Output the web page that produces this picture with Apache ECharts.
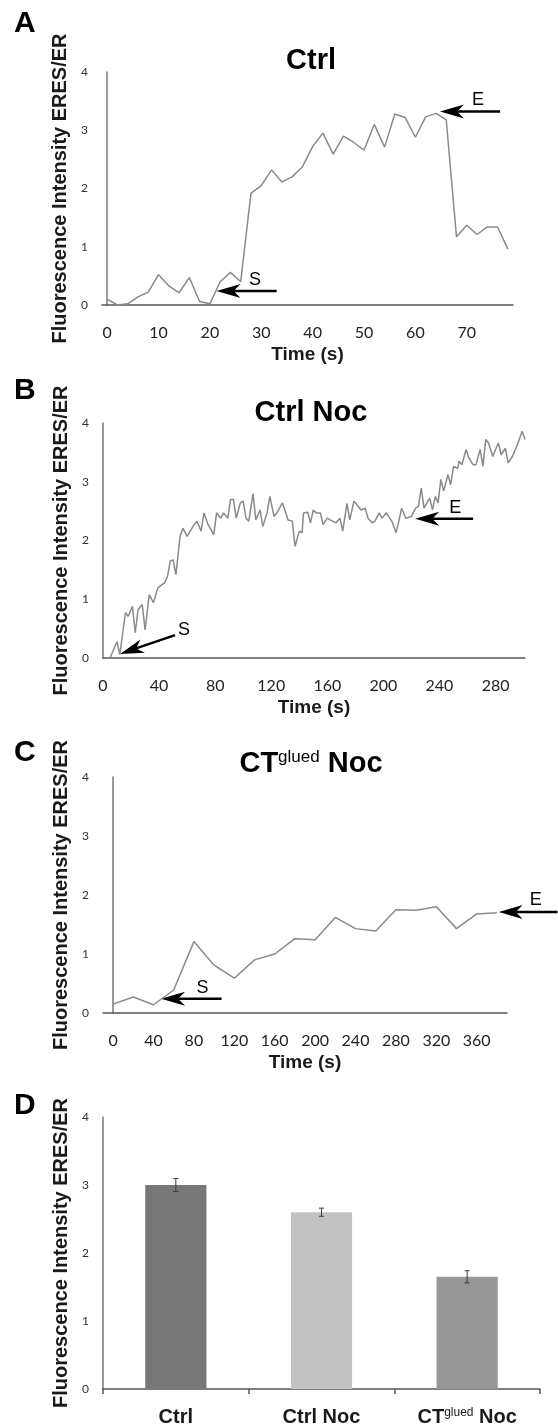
<!DOCTYPE html>
<html>
<head>
<meta charset="utf-8">
<title>ERES/ER fluorescence</title>
<script src="https://cdn.jsdelivr.net/npm/echarts@6/dist/echarts.min.js"></script>
<style>
html, body { margin: 0; padding: 0; background: #fff; }
#main { width: 558px; height: 1426px; }
</style>
</head>
<body>
<div id="main"></div>
<script>
// panel A - Ctrl (s, ratio)
var aTime = [0,2,4,6,8,10,12,14,16,18,20,22,24,26,28,30,32,34,36,38,40,42,44,46,48,50,52,54,56,58,60,62,64,66,68,70,72,74,76,78];
var aValue = [0.10,0.00,0.02,0.14,0.22,0.52,0.33,0.21,0.47,0.06,0.02,0.40,0.56,0.40,1.92,2.05,2.32,2.11,2.20,2.37,2.72,2.95,2.59,2.90,2.79,2.66,3.10,2.71,3.28,3.22,2.88,3.23,3.29,3.18,1.17,1.37,1.21,1.34,1.34,0.96];
var aTicks = [0,10,20,30,40,50,60,70];
// label, tailX, tailY, tipX, tipY, textX, textY
var aArrows = [['S',33,0.24,21.3,0.24,28.8,0.43],['E',76.5,3.32,64.8,3.32,72.2,3.52]];

// panel B - Ctrl Noc
var bTime = [5,10,12,16,18,21,23,25,28,30,33,36,39,42,44,46,48,50,52,55,57,60,65,67,70,72,75,79,81,84,86,89,91,93,95,98,100,102,104,107,109,112,114,117,119,122,124,128,132,135,137,140,142,143,146,148,150,152,155,157,160,162,166,169,171,174,176,179,182,184,187,189,192,194,197,199,202,206,209,211,213,216,220,223,225,227,229,231,233,235,237,239,241,243,246,248,250,253,254,256,259,261,264,266,269,271,273,275,278,280,282,284,287,289,292,296,299,301];
var bValue = [0,0.28,0.06,0.77,0.71,0.88,0.43,0.82,0.91,0.48,1.08,0.94,1.19,1.25,1.28,1.39,1.65,1.67,1.42,2.07,2.21,2.07,2.27,2.33,2.16,2.47,2.27,2.10,2.47,2.38,2.47,2.38,2.70,2.70,2.38,2.64,2.67,2.38,2.33,2.80,2.35,2.52,2.24,2.47,2.75,2.41,2.47,2.64,2.35,2.33,1.90,2.16,2.13,2.47,2.48,2.30,2.52,2.47,2.47,2.27,2.38,2.35,2.30,2.38,2.16,2.63,2.35,2.67,2.58,2.52,2.55,2.38,2.30,2.33,2.47,2.38,2.47,2.33,2.13,2.33,2.55,2.38,2.41,2.55,2.58,2.89,2.55,2.64,2.72,2.52,2.75,2.64,3.04,2.84,3.12,2.95,3.26,3.23,3.35,3.29,3.55,3.40,3.29,3.29,3.55,3.26,3.72,3.66,3.43,3.55,3.66,3.46,3.57,3.32,3.43,3.66,3.86,3.72];
var bTicks = [0,40,80,120,160,200,240,280];
var bArrows = [['S',51.4,0.39,12.1,0.07,57.8,0.48],['E',264,2.37,222.7,2.37,251.3,2.55]];

// panel C - CTglued Noc
var cTime = [0,20,40,60,80,100,120,140,160,180,200,220,240,260,280,300,320,340,360,380];
var cValue = [0.15,0.27,0.14,0.39,1.21,0.81,0.59,0.90,1.00,1.26,1.24,1.62,1.43,1.39,1.75,1.74,1.80,1.43,1.68,1.70];
var cTicks = [0,40,80,120,160,200,240,280,320,360];
var cArrows = [['S',107.4,0.24,47.5,0.24,88.6,0.42],['E',440,1.71,381.8,1.71,418.4,1.92]];

// panel D - means with error bars
var dCategories = ['Ctrl', 'Ctrl Noc', 'CTglued Noc'];
var dValue = [3.0, 2.6, 1.65];
var dError = [0.095, 0.06, 0.09];
var dColors = ['#777777', '#c2c2c2', '#979797'];

function zip(xs, ys) {
    return xs.map(function (x, i) { return [x, ys[i]]; });
}

var boldFont = 'Liberation Sans';

function yAxis(g) {
    return {
        type: 'value', gridIndex: g, min: 0, max: 4, interval: 1,
        name: 'Fluorescence Intensity ERES/ER', nameLocation: 'middle', nameGap: 32,
        nameTextStyle: {fontFamily: boldFont, fontWeight: 'bold', fontSize: 20, color: '#1a1a1a'},
        axisLine: {show: true, lineStyle: {color: '#7a7a7a', width: 1.5}},
        axisTick: {show: false},
        splitLine: {show: false},
        axisLabel: {fontFamily: 'Lato', fontSize: 12, color: '#333', margin: 14}
    };
}

function timeAxis(g, min, max, ticks) {
    return {
        type: 'value', gridIndex: g, min: min, max: max,
        name: 'Time (s)', nameLocation: 'middle', nameGap: 40,
        nameTextStyle: {fontFamily: boldFont, fontWeight: 'bold', fontSize: 19, color: '#1a1a1a'},
        axisLine: {show: true, onZero: false, lineStyle: {color: '#555', width: 1.5}},
        axisTick: {show: false},
        splitLine: {show: false},
        axisLabel: {customValues: ticks, fontFamily: 'Lato', fontSize: 16, color: '#222', margin: 20}
    };
}

function lineSeries(g, xs, ys) {
    return {
        type: 'line', xAxisIndex: g, yAxisIndex: g,
        data: zip(xs, ys), symbol: 'none', silent: true,
        lineStyle: {color: '#8a8a8a', width: 1.5}
    };
}

function arrowSeries(g, arrows) {
    return {
        type: 'custom', xAxisIndex: g, yAxisIndex: g, silent: true, clip: false,
        data: arrows.map(function (a) { return a.slice(1); }),
        encode: {x: 0, y: 1},
        renderItem: function (params, api) {
            var tail = api.coord([api.value(0), api.value(1)]);
            var tip = api.coord([api.value(2), api.value(3)]);
            var lab = api.coord([api.value(4), api.value(5)]);
            var dx = tip[0] - tail[0], dy = tip[1] - tail[1];
            var len = Math.sqrt(dx * dx + dy * dy);
            var ux = dx / len, uy = dy / len, nx = -uy, ny = ux;
            var L = 24, W = 7, N = 17;
            var bx = tip[0] - ux * L, by = tip[1] - uy * L;
            var cx = tip[0] - ux * N, cy = tip[1] - uy * N;
            return {
                type: 'group',
                children: [
                    {type: 'line', shape: {x1: tail[0], y1: tail[1], x2: cx, y2: cy},
                        style: {stroke: '#000', lineWidth: 2.5}},
                    {type: 'polygon', shape: {points: [[tip[0], tip[1]], [bx + nx * W, by + ny * W], [cx, cy], [bx - nx * W, by - ny * W]]},
                        style: {fill: '#000'}},
                    {type: 'text', style: {text: arrows[params.dataIndex][0], x: lab[0], y: lab[1],
                        align: 'center', verticalAlign: 'middle', font: '18px "Liberation Sans"', fill: '#000'}}
                ]
            };
        }
    };
}

function letter(t, top) {
    return {text: t, left: 14, top: top, padding: 0,
        textStyle: {fontFamily: boldFont, fontWeight: 'bold', fontSize: 30, color: '#000'}};
}

var titleStyle = {fontFamily: boldFont, fontWeight: 'bold', fontSize: 29, color: '#000'};
var richSup = {
    m: {fontFamily: boldFont, fontWeight: 'bold', fontSize: 29, color: '#000'},
    s: {fontFamily: boldFont, fontWeight: 'normal', fontSize: 17, color: '#000', verticalAlign: 'top'}
};

var chart = echarts.init(document.getElementById('main'));

chart.setOption({
    animation: false,
    backgroundColor: '#fff',
    title: [
        letter('A', 9), letter('B', 376), letter('C', 738), letter('D', 1091),
        {text: 'Ctrl', left: 311, top: 46, textAlign: 'center', padding: 0, textStyle: titleStyle},
        {text: 'Ctrl Noc', left: 311, top: 398, textAlign: 'center', padding: 0, textStyle: titleStyle},
        {text: '{m|CT}{s|glued}{m| Noc}', left: 311, top: 749, textAlign: 'center', padding: 0,
            textStyle: {rich: richSup}}
    ],
    grid: [
        {left: 102, top: 72, width: 411, height: 233, outerBoundsMode: 'none'},
        {left: 103, top: 423, width: 422, height: 235, outerBoundsMode: 'none'},
        {left: 103, top: 777, width: 404, height: 236, outerBoundsMode: 'none'},
        {left: 103, top: 1117, width: 437, height: 272, outerBoundsMode: 'none'}
    ],
    xAxis: [
        timeAxis(0, -1, 79, aTicks),
        timeAxis(1, 0, 301, bTicks),
        timeAxis(2, -10, 390, cTicks),
        {
            type: 'category', gridIndex: 3, data: dCategories,
            axisLine: {show: true, lineStyle: {color: '#555', width: 1.5}},
            axisTick: {show: true, interval: 0, length: 5, lineStyle: {color: '#555', width: 1.5}},
            axisLabel: {
                interval: 0,
                margin: 18,
                formatter: function (v) {
                    if (v === 'CTglued Noc') return '{m|CT}{s|glued}{m| Noc}';
                    return '{m|' + v + '}';
                },
                rich: {
                    m: {fontFamily: boldFont, fontWeight: 'bold', fontSize: 20, color: '#1a1a1a'},
                    s: {fontFamily: boldFont, fontWeight: 'normal', fontSize: 12, color: '#1a1a1a', verticalAlign: 'top'}
                }
            }
        }
    ],
    yAxis: [yAxis(0), yAxis(1), yAxis(2), yAxis(3)],
    series: [
        lineSeries(0, aTime, aValue),
        arrowSeries(0, aArrows),
        lineSeries(1, bTime, bValue),
        arrowSeries(1, bArrows),
        lineSeries(2, cTime, cValue),
        arrowSeries(2, cArrows),
        {
            type: 'bar', xAxisIndex: 3, yAxisIndex: 3, barWidth: '42%', silent: true,
            data: dValue.map(function (v, i) { return {value: v, itemStyle: {color: dColors[i]}}; })
        },
        {
            type: 'custom', xAxisIndex: 3, yAxisIndex: 3, silent: true, z: 10,
            data: dValue.map(function (v, i) { return [i, v + dError[i], v - dError[i]]; }),
            encode: {x: 0, y: [1, 2]},
            renderItem: function (params, api) {
                var hi = api.coord([api.value(0), api.value(1)]);
                var lo = api.coord([api.value(0), api.value(2)]);
                var w = 2.5;
                var st = {stroke: '#3a3a3a', lineWidth: 1};
                return {
                    type: 'group',
                    children: [
                        {type: 'line', shape: {x1: hi[0], y1: hi[1], x2: lo[0], y2: lo[1]}, style: st},
                        {type: 'line', shape: {x1: hi[0] - w, y1: hi[1], x2: hi[0] + w, y2: hi[1]}, style: st},
                        {type: 'line', shape: {x1: lo[0] - w, y1: lo[1], x2: lo[0] + w, y2: lo[1]}, style: st}
                    ]
                };
            }
        }
    ]
});
window.onresize = chart.resize;
</script>
</body>
</html>
